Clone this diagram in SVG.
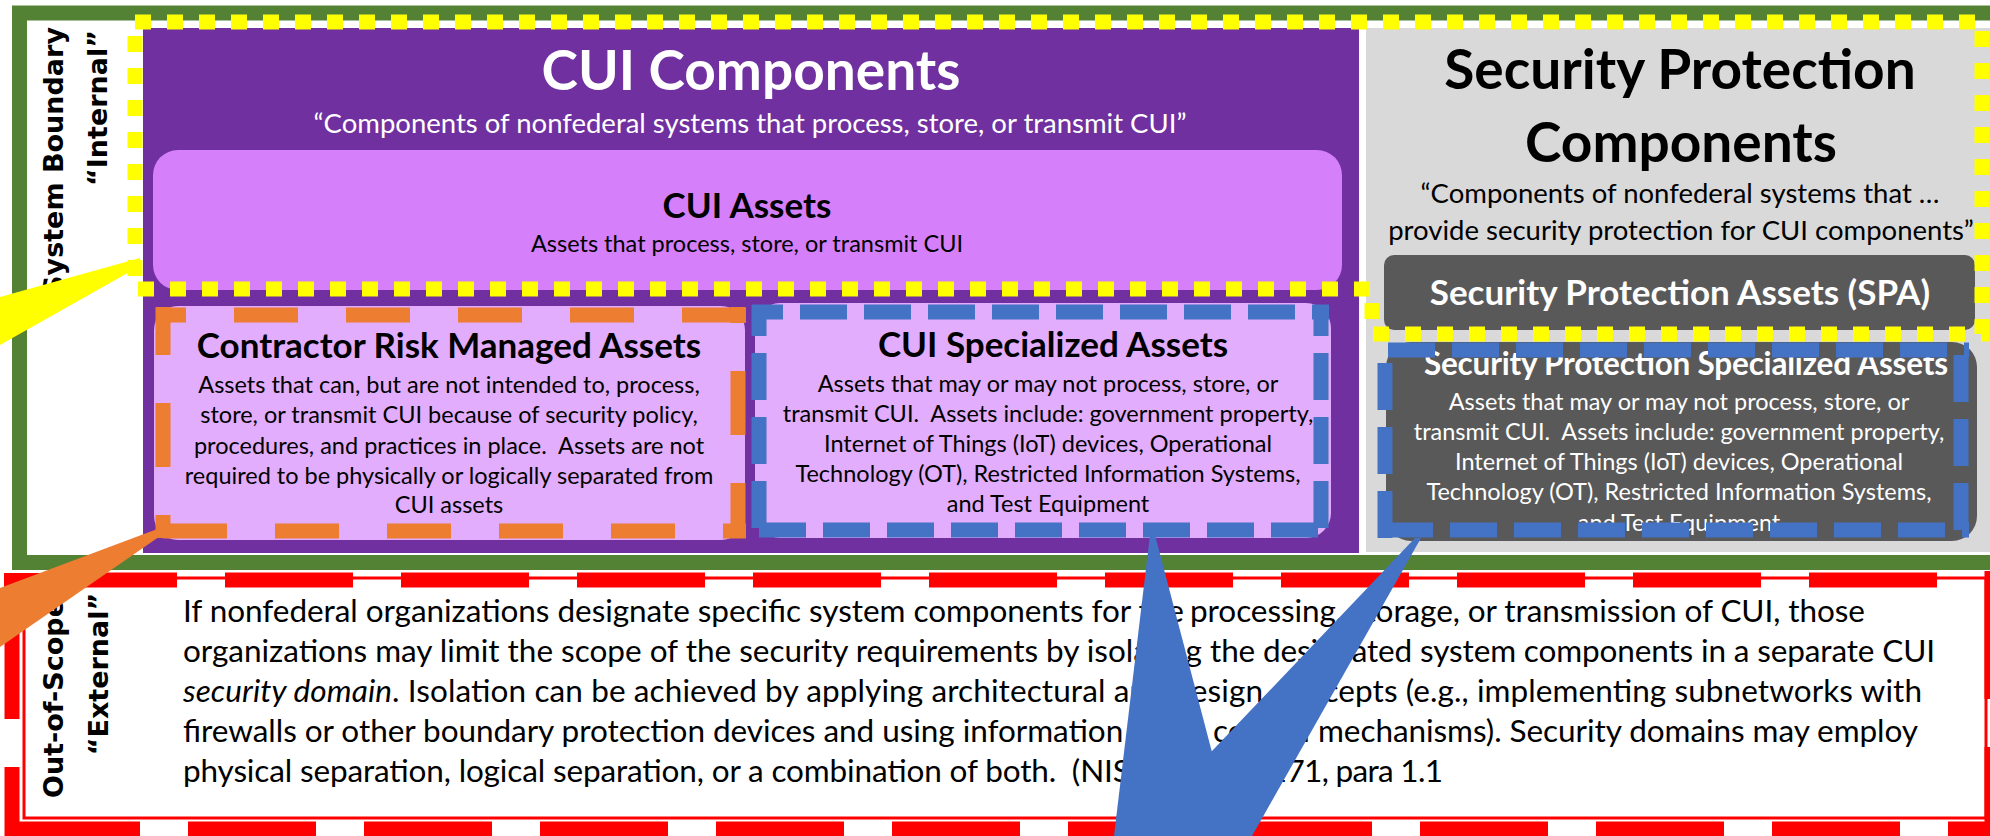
<svg xmlns="http://www.w3.org/2000/svg" width="1990" height="836" viewBox="0 0 1990 836">
<style>
text{font-family:Lato,"Liberation Sans",sans-serif;white-space:pre}
.h1{font-size:55px;font-weight:bold;text-anchor:middle}
.q{font-size:27.5px;text-anchor:middle}
.h2{font-size:35px;font-weight:bold;text-anchor:middle}
.b{font-size:23.5px;text-anchor:middle}
.p{font-size:31.5px}
.rot{font-family:"DejaVu Sans",Verdana,sans-serif;font-size:27px;font-weight:bold;fill:#000}
.w{fill:#fff}
.k{fill:#000}
.ys{fill:none;stroke:#FFFF00;stroke-width:15;stroke-dasharray:16 16}
.os{stroke:#ED7D31;stroke-width:15;stroke-dasharray:64 48;fill:none}
.bs{stroke:#4472C4;stroke-width:15;stroke-dasharray:47 17;fill:none}
.rs{stroke:#FF0000;stroke-width:15;stroke-dasharray:128 48;fill:none}
</style>
<rect width="1990" height="836" fill="#fff"/>

<g id="system-boundary">
<rect x="19.5" y="13" width="1990" height="549.5" fill="#fff" stroke="#548235" stroke-width="15"/>
<text class="rot" transform="translate(63,27) rotate(-90)" text-anchor="end">System Boundary</text>
<text class="rot" transform="translate(107,30) rotate(-90)" text-anchor="end">“Internal”</text>
</g>

<g id="cui-components">
<rect x="143" y="28" width="1216" height="525" fill="#7030A0"/>
<text class="h1 w" x="751" y="90">CUI Components</text>
<text class="q w" x="750" y="133">“Components of nonfederal systems that process, store, or transmit CUI”</text>
</g>

<g id="cui-assets">
<rect x="153" y="150" width="1189" height="140" rx="25" fill="#D580FA"/>
<text class="h2 k" x="747" y="218">CUI Assets</text>
<text class="b k" x="747" y="252">Assets that process, store, or transmit CUI</text>
</g>

<g id="crma">
<rect x="154" y="306" width="591" height="234" rx="24" fill="#E2ADFC"/>
<text class="h2 k" x="449" y="358">Contractor Risk Managed Assets</text>
<text class="b k" x="449" y="393">Assets that can, but are not intended to, process,</text>
<text class="b k" x="449" y="423">store, or transmit CUI because of security policy,</text>
<text class="b k" x="449" y="454">procedures, and practices in place.  Assets are not</text>
<text class="b k" x="449" y="484">required to be physically or logically separated from</text>
<text class="b k" x="449" y="513">CUI assets</text>
<path class="os" d="M156,315 H746" stroke-dashoffset="34"/>
<path class="os" d="M163,307 V538" stroke-dashoffset="16"/>
<path class="os" d="M156,531 H746" stroke-dashoffset="105"/>
<path class="os" d="M738,307 V538" stroke-dashoffset="48"/>
</g>

<g id="cui-specialized">
<rect x="755" y="303" width="576" height="235" rx="25" fill="#E2ADFC"/>
<text class="h2 k" x="1053" y="357">CUI Specialized Assets</text>
<text class="b k" x="1048" y="392">Assets that may or may not process, store, or</text>
<text class="b k" x="1048" y="422">transmit CUI.  Assets include: government property,</text>
<text class="b k" x="1048" y="452">Internet of Things (IoT) devices, Operational</text>
<text class="b k" x="1048" y="482">Technology (OT), Restricted Information Systems,</text>
<text class="b k" x="1048" y="512">and Test Equipment</text>
<path class="bs" d="M752,312 H1329" stroke-dashoffset="16"/>
<path class="bs" d="M759,305 V537" stroke-dashoffset="16"/>
<path class="bs" d="M752,530 H1329" stroke-dashoffset="57"/>
<path class="bs" d="M1321,305 V537" stroke-dashoffset="16"/>
</g>

<g id="security-protection-components">
<rect x="1366" y="28" width="624" height="524" fill="#D9D9D9"/>
<text class="h1 k" x="1680" y="89">Security Protection</text>
<text class="h1 k" x="1681" y="162">Components</text>
<text class="q k" x="1680" y="203">“Components of nonfederal systems that …</text>
<text class="q k" x="1681" y="240">provide security protection for CUI components”</text>
</g>

<g id="spa">
<rect x="1384" y="255" width="591" height="75" rx="10" fill="#595959"/>
<text class="h2 w" x="1680" y="305">Security Protection Assets (SPA)</text>
</g>

<g id="spsa">
<rect x="1386" y="342" width="591" height="199" rx="25" fill="#595959"/>
<text class="h2 w" x="1686" y="375" style="font-size:31.5px" textLength="524">Security Protection Specialized Assets</text>
<text class="b w" x="1679" y="410">Assets that may or may not process, store, or</text>
<text class="b w" x="1679" y="440">transmit CUI.  Assets include: government property,</text>
<text class="b w" x="1679" y="470">Internet of Things (IoT) devices, Operational</text>
<text class="b w" x="1679" y="500">Technology (OT), Restricted Information Systems,</text>
<text class="b w" x="1679" y="531">and Test Equipment</text>
<path class="bs" d="M1377,350 H1969" stroke-dashoffset="53"/>
<path class="bs" d="M1385,346 V538" stroke-dashoffset="47"/>
<path class="bs" d="M1377,530 H1969" stroke-dashoffset="55"/>
<path class="bs" d="M1961,343 V538" stroke-dashoffset="52"/>
</g>

<g id="internal-scope-outline">
<path class="ys" d="M135,22 H1982 V334 H1372 V289 H135 Z"/>
</g>

<g id="out-of-scope">
<rect x="12" y="580" width="1980" height="249" fill="#fff"/>
<rect x="24" y="578" width="1962" height="240" fill="none" stroke="#FF0000" stroke-width="3"/>
<path class="rs" d="M4,580 H2000" stroke-dashoffset="131"/>
<path class="rs" d="M4,829 H2000" stroke-dashoffset="168"/>
<path class="rs" d="M12,591 V836"/>
<path class="rs" d="M1992,571 V836"/>
<rect x="4" y="573" width="45" height="15" fill="#FF0000"/>
<rect x="4" y="573" width="16" height="20" fill="#FF0000"/>
<text class="rot" transform="translate(63,798) rotate(-90)">Out-of-Scope</text>
<text class="rot" transform="translate(108,674) rotate(-90)" text-anchor="middle">“External”</text>
<text class="p k" x="183" y="622" textLength="1001">If nonfederal organizations designate specific system components for the</text>
<text class="p k" x="1190" y="622" textLength="675">processing, storage, or transmission of CUI, those</text>
<text class="p k" x="183" y="662" textLength="1019">organizations may limit the scope of the security requirements by isolating</text>
<text class="p k" x="1210" y="662" textLength="725">the designated system components in a separate CUI</text>
<text class="p k" x="183" y="702" textLength="1080"><tspan font-style="italic">security domain</tspan>. Isolation can be achieved by applying architectural and design</text>
<text class="p k" x="1273" y="702" textLength="649">concepts (e.g., implementing subnetworks with</text>
<text class="p k" x="183" y="742" textLength="1009">firewalls or other boundary protection devices and using information flow</text>
<text class="p k" x="1213" y="742" textLength="705">control mechanisms). Security domains may employ</text>
<text class="p k" x="183" y="782" textLength="1008">physical separation, logical separation, or a combination of both.  (NIST SP</text>
<text class="p k" x="1205" y="782" textLength="238">800-171, para 1.1</text>
</g>

<g id="connectors">
<polygon points="140,258 140,266 0,345 0,297" fill="#FFFF00"/>
<polygon points="160,528 166,532 0,647 0,588" fill="#ED7D31"/>
<polygon points="1150,535 1155,535 1234,836 1114,836" fill="#4472C4"/>
<polygon points="1415,538 1421,538 1252,836 1131,836" fill="#4472C4"/>
</g>
</svg>
